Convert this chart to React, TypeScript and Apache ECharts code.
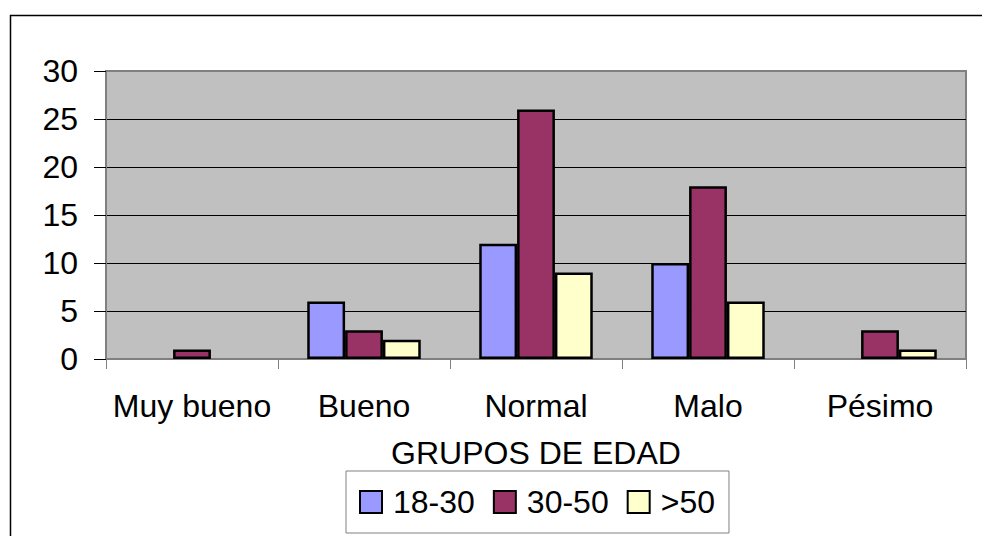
import React, { useEffect, useRef } from "react";
import * as echarts from "echarts";

const categories = ["Muy bueno", "Bueno", "Normal", "Malo", "Pésimo"];
const seriesNames = ["18-30", "30-50", ">50"];
const values1830 = [0, 6, 12, 10, 0];
const values3050 = [1, 3, 26, 18, 3];
const valuesOver50 = [0, 2, 9, 6, 1];
const seriesColors = ["#9999FF", "#993366", "#FFFFCC"];
const yTicks = { min: 0, max: 30, interval: 5 };
const axisTitle = "GRUPOS DE EDAD";

const FONT = "'Liberation Sans', Arial, Helvetica, sans-serif";

export default function App() {
  const ref = useRef<HTMLDivElement>(null);
  useEffect(() => {
    document.body.style.margin = "0";
    if (!ref.current) return;
    const chart = echarts.init(ref.current, undefined, { renderer: "svg" });
    const allValues = [values1830, values3050, valuesOver50];
    chart.setOption({
      animation: false,
      backgroundColor: "#ffffff",
      textStyle: { fontFamily: FONT },
      graphic: [
        {
          type: "rect",
          left: 8,
          top: 13,
          shape: { x: 0, y: 0, width: 1000, height: 600 },
          style: { fill: "none", stroke: "#000", lineWidth: 1.5 },
          silent: true,
          z: -10,
        },
      ],
      grid: {
        left: 106,
        top: 71,
        right: 16,
        bottom: 177,
        show: true,
        backgroundColor: "#C0C0C0",
        borderColor: "#808080",
        borderWidth: 2,
      },
      legend: {
        left: 346,
        top: 471,
        padding: [15, 14, 15, 13],
        itemGap: 18,
        itemWidth: 22,
        itemHeight: 22,
        icon: "rect",
        borderColor: "#808080",
        borderWidth: 1,
        backgroundColor: "#ffffff",
        data: seriesNames,
        textStyle: { fontSize: 32, color: "#000", fontFamily: FONT, padding: [0, 0, 0, 6] },
      },
      xAxis: {
        type: "category",
        data: categories,
        name: axisTitle,
        nameLocation: "middle",
        nameGap: 78,
        nameTextStyle: { fontSize: 32, color: "#000", fontFamily: FONT },
        axisLine: { show: true, lineStyle: { color: "#808080", width: 2 } },
        axisTick: { show: true, length: 10, lineStyle: { color: "#808080", width: 1 } },
        axisLabel: { fontSize: 32, color: "#000", margin: 31, interval: 0, fontFamily: FONT },
        splitLine: { show: false },
      },
      yAxis: {
        type: "value",
        min: yTicks.min,
        max: yTicks.max,
        interval: yTicks.interval,
        axisLine: { show: true, lineStyle: { color: "#808080", width: 2 } },
        axisTick: { show: true, length: 12, lineStyle: { color: "#000", width: 1 } },
        axisLabel: { fontSize: 32, color: "#000", margin: 28, fontFamily: FONT },
        splitLine: {
          show: true,
          showMinLine: false,
          showMaxLine: false,
          lineStyle: { color: "#000", width: 1 },
        },
      },
      series: seriesNames.map((name, i) => ({
        name,
        type: "bar",
        barGap: "0%",
        barCategoryGap: "34%",
        itemStyle: { color: seriesColors[i], borderColor: "#000", borderWidth: 2.5 },
        data: allValues[i].map((v) =>
          v === 0 ? { value: v, itemStyle: { borderWidth: 0 } } : v
        ),
      })),
    });
    return () => chart.dispose();
  }, []);
  return <div ref={ref} style={{ width: 982, height: 536 }} />;
}
